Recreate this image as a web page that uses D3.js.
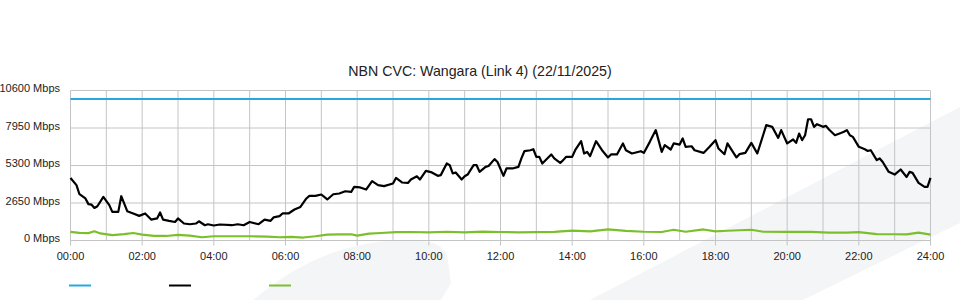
<!DOCTYPE html>
<meta charset="utf-8">
<style>
  body { margin: 0; background: #fff; }
  svg { display: block; font-family: "Liberation Sans", Arial, sans-serif; }
</style>
<script src="https://d3js.org/d3.v7.min.js"></script>
<div id="chart"></div>
<script>
// chart data (minutes since midnight, Mbps)
const title = "NBN CVC: Wangara (Link 4) (22/11/2025)";
const yTicks = [0, 2650, 5300, 7950, 10600];
const xTickHours = d3.range(0, 25, 2);
const capacityMbps = 10000;

const trafficMin = [
  0, 10, 15, 25, 30, 35, 40, 45, 55, 65,
  70, 80, 85, 95, 105, 115, 125, 135, 145, 150,
  155, 165, 175, 180, 190, 200, 210, 215, 225, 230,
  240, 250, 270, 280, 290, 300, 315, 325, 335, 340,
  350, 355, 365, 375, 385, 395, 400, 410, 420, 430,
  440, 450, 460, 470, 475, 485, 495, 505, 515, 525,
  540, 545, 555, 565, 570, 580, 585, 595, 605, 615,
  620, 630, 635, 640, 645, 655, 660, 665, 675, 680,
  685, 695, 700, 710, 715, 725, 730, 740, 750, 755,
  760, 770, 775, 780, 785, 790, 805, 810, 820, 825,
  830, 840, 845, 855, 860, 865, 870, 880, 890, 900,
  905, 915, 925, 930, 940, 955, 960, 970, 980, 990,
  995, 1005, 1010, 1020, 1025, 1030, 1040, 1045, 1060, 1070,
  1080, 1085, 1095, 1100, 1115, 1120, 1130, 1140, 1150, 1165,
  1175, 1185, 1190, 1200, 1210, 1215, 1220, 1225, 1230, 1235,
  1240, 1245, 1250, 1260, 1265, 1270, 1280, 1290, 1295, 1300,
  1305, 1310, 1320, 1330, 1335, 1340, 1350, 1355, 1360, 1370,
  1380, 1390, 1400, 1405, 1410, 1420, 1430, 1435, 1440
];
const trafficMbps = [
  4420, 3910, 3270, 2970, 2570, 2540, 2300, 2420, 3080, 2500,
  2020, 2020, 3130, 2070, 1910, 1740, 1910, 1480, 1560, 1980,
  1480, 1390, 1310, 1560, 1200, 1150, 1200, 1360, 1080, 1150,
  1060, 1130, 1080, 1150, 1080, 1310, 1150, 1480, 1390, 1630,
  1720, 1910, 1910, 2190, 2370, 2970, 3150, 3150, 3250, 2900,
  3270, 3320, 3480, 3430, 3790, 3750, 3600, 4190, 3910, 3840,
  4030, 4420, 4100, 4070, 4310, 4540, 4310, 4920, 4810, 4570,
  4620, 5440, 5320, 4740, 4810, 4310, 4540, 4660, 5320, 5320,
  4850, 5200, 5270, 5750, 5550, 4570, 5090, 5090, 5200, 5800,
  6310, 6380, 6450, 5910, 5910, 5440, 6080, 5800, 5480, 5680,
  5910, 5910, 6380, 7020, 6150, 6260, 5960, 7020, 6380, 5870,
  6080, 6080, 6860, 6380, 6150, 6310, 6190, 6970, 7800, 6260,
  6740, 6430, 6860, 6780, 7210, 6620, 6660, 6380, 6190, 6620,
  7090, 6500, 6100, 6860, 5870, 6100, 6190, 6900, 6150, 8150,
  8030, 7250, 7800, 6860, 7140, 6900, 7560, 7090, 7440, 8570,
  8570, 8030, 8220, 8030, 8100, 7840, 7440, 7600, 7680, 7800,
  7440, 7320, 6620, 6450, 6330, 6380, 5680, 5800, 5550, 4850,
  4660, 5020, 4490, 4850, 4780, 4070, 3790, 3790, 4420
];

const uploadMin = [
  0, 15, 30, 40, 50, 70, 90, 105, 120, 140,
  160, 180, 200, 220, 240, 270, 300, 330, 350, 370,
  390, 410, 430, 450, 470, 480, 500, 520, 545, 570,
  600, 630, 660, 690, 720, 750, 780, 810, 840, 870,
  900, 930, 960, 990, 1010, 1030, 1060, 1080, 1100, 1140,
  1160, 1200, 1240, 1270, 1300, 1320, 1350, 1380, 1400, 1420,
  1440
];
const uploadMbps = [
  610, 540, 520, 650, 500, 380, 450, 530, 420, 330,
  320, 400, 340, 230, 300, 300, 300, 280, 230, 260,
  210, 300, 420, 430, 440, 340, 480, 530, 590, 600,
  580, 620, 570, 630, 600, 580, 590, 610, 700, 640,
  780, 680, 620, 600, 760, 620, 780, 640, 690, 760,
  620, 610, 610, 560, 550, 590, 450, 440, 430, 560,
  420
];

const width = 960, height = 300;
const svg = d3.select("#chart").append("svg")
    .attr("width", width)
    .attr("height", height);

// faint background watermark shapes
svg.append("path")
    .attr("d", "M590,300 L960,107 L960,223 L803,300 Z")
    .attr("fill", "#f4f5f7");
svg.append("path")
    .attr("d", "M253,300 C290,270 330,244 400,240 Q440,238 447,255 L451,283 L441,300 Z")
    .attr("fill", "#f4f5f7");

const x = d3.scaleLinear().domain([0, 1440]).range([70.5, 930.5]);
const y = d3.scaleLinear().domain([0, 10600]).range([240.5, 90.5]);

svg.append("text")
    .attr("x", 480).attr("y", 76)
    .attr("text-anchor", "middle")
    .attr("font-size", 14.2)
    .attr("fill", "#222")
    .text(title);

// grid
const grid = svg.append("g").attr("stroke", "#c4c4c4").attr("stroke-width", 1);
grid.selectAll("line.h").data(yTicks).join("line")
    .attr("x1", x(0)).attr("x2", x(1440))
    .attr("y1", d => y(d)).attr("y2", d => y(d));
grid.selectAll("line.v").data(d3.range(0, 25)).join("line")
    .attr("x1", d => x(d * 60)).attr("x2", d => x(d * 60))
    .attr("y1", y(10600)).attr("y2", d => d % 2 === 0 ? y(0) + 5 : y(0));

// axis labels
svg.append("g").selectAll("text").data(yTicks).join("text")
    .attr("x", 60).attr("y", d => y(d) - 2)
    .attr("dy", "0.35em")
    .attr("text-anchor", "end")
    .attr("font-size", 11)
    .attr("fill", "#222")
    .text(d => d + " Mbps");

svg.append("g").selectAll("text").data(xTickHours).join("text")
    .attr("x", d => x(d * 60)).attr("y", 260)
    .attr("text-anchor", "middle")
    .attr("font-size", 11)
    .attr("fill", "#222")
    .text(d => d3.format("02")(d) + ":00");

const line = d3.line().x(d => x(d[0])).y(d => y(d[1]));

svg.append("path")
    .datum([[0, capacityMbps], [1440, capacityMbps]])
    .attr("d", line)
    .attr("fill", "none").attr("stroke", "#25a8e2").attr("stroke-width", 2);

svg.append("path")
    .datum(d3.zip(uploadMin, uploadMbps))
    .attr("d", line)
    .attr("fill", "none").attr("stroke", "#7cbf2c").attr("stroke-width", 2.2)
    .attr("stroke-linejoin", "round");

svg.append("path")
    .datum(d3.zip(trafficMin, trafficMbps))
    .attr("d", line)
    .attr("fill", "none").attr("stroke", "#000").attr("stroke-width", 2.2)
    .attr("stroke-linejoin", "round");

// legend swatches
const legendColors = ["#25a8e2", "#000", "#7cbf2c"];
svg.append("g").selectAll("line").data(legendColors).join("line")
    .attr("x1", (d, i) => 69 + i * 100).attr("x2", (d, i) => 91 + i * 100)
    .attr("y1", 285.5).attr("y2", 285.5)
    .attr("stroke", d => d).attr("stroke-width", 2);
</script>
